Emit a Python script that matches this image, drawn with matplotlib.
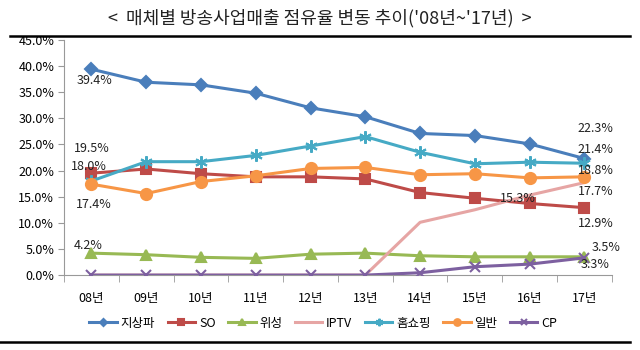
import matplotlib
matplotlib.use("Agg")
import matplotlib.pyplot as plt
import numpy as np

plt.rcParams['font.family'] = ['Noto Sans CJK KR', 'DejaVu Sans']

years = ['08년', '09년', '10년', '11년', '12년', '13년', '14년', '15년', '16년', '17년']
terrestrial = [39.4, 36.9, 36.4, 34.8, 32.0, 30.3, 27.1, 26.7, 25.1, 22.3]
so = [19.5, 20.3, 19.4, 18.8, 18.8, 18.4, 15.8, 14.7, 13.7, 12.9]
satellite = [4.2, 3.9, 3.4, 3.2, 4.0, 4.2, 3.7, 3.5, 3.5, 3.5]
iptv = [0.0, 0.0, 0.0, 0.0, 0.0, 0.0, 10.1, 12.5, 15.3, 17.7]
homeshop = [18.0, 21.7, 21.7, 22.9, 24.7, 26.5, 23.5, 21.3, 21.6, 21.4]
general = [17.4, 15.6, 17.9, 19.0, 20.4, 20.6, 19.2, 19.4, 18.6, 18.8]
cp = [0.0, 0.0, 0.0, 0.0, 0.0, 0.0, 0.45, 1.6, 2.1, 3.3]

names = ['지상파', 'SO', '위성', 'IPTV', '홈쇼핑', '일반', 'CP']
colors = ['#4A7EBB', '#BE4B48', '#98B954', '#E6A5A4', '#46AAC5', '#F79646', '#7D60A0']

fig = plt.figure(figsize=(6.4, 3.5), dpi=100)
ax = fig.add_axes([0.1, 0.214, 0.856, 0.672])
x = np.arange(len(years))

series = [terrestrial, so, satellite, iptv, homeshop, general, cp]
markers = ['D', 's', '^', None, (6, 2, 0), 'o', 'x']
msizes = [6, 7, 7, 0, 9, 8, 7]
for s, c, m, ms, n in zip(series, colors, markers, msizes, names):
    kw = dict(color=c, lw=2.2, label=n, zorder=3)
    if m is not None:
        kw.update(marker=m, markersize=ms, markeredgecolor=c, markerfacecolor=c, markeredgewidth=1.5)
    ax.plot(x, s, **kw)

ax.set_xlim(-0.5, 9.5)
ax.set_ylim(0, 45)
ax.set_yticks(np.arange(0, 46, 5))
ax.set_yticklabels([f'{v:.1f}%' for v in np.arange(0, 46, 5)], fontsize=9)
ax.set_xticks(x)
ax.set_xticklabels(years, fontsize=9)
ax.tick_params(axis='x', length=0, pad=12)
ax.set_xticks(np.arange(-0.5, 10, 1), minor=True)
ax.tick_params(axis='x', which='minor', length=5, color='#999999')
ax.tick_params(axis='y', length=4, color='#999999', pad=3)
for sp in ['top', 'right']:
    ax.spines[sp].set_visible(False)
ax.spines['left'].set_color('#999999')
ax.spines['bottom'].set_color('#999999')

fs = 9
tc = '#222222'
ax.text(0.05, 37.3, '39.4%', fontsize=fs, color=tc, ha='center', va='center')
ax.text(0.0, 24.3, '19.5%', fontsize=fs, color=tc, ha='center', va='center')
ax.text(-0.05, 20.8, '18.0%', fontsize=fs, color=tc, ha='center', va='center')
ax.text(0.05, 13.5, '17.4%', fontsize=fs, color=tc, ha='center', va='center')
ax.text(-0.05, 5.6, '4.2%', fontsize=fs, color=tc, ha='center', va='center')
ax.text(9.2, 28.0, '22.3%', fontsize=fs, color=tc, ha='center', va='center')
ax.text(9.2, 24.1, '21.4%', fontsize=fs, color=tc, ha='center', va='center')
ax.text(9.2, 20.1, '18.8%', fontsize=fs, color=tc, ha='center', va='center')
ax.text(9.2, 15.9, '17.7%', fontsize=fs, color=tc, ha='center', va='center')
ax.text(7.78, 14.6, '15.3%', fontsize=fs, color=tc, ha='center', va='center')
ax.text(9.2, 9.8, '12.9%', fontsize=fs, color=tc, ha='center', va='center')
ax.text(9.4, 5.2, '3.5%', fontsize=fs, color=tc, ha='center', va='center')
ax.text(9.2, 2.1, '3.3%', fontsize=fs, color=tc, ha='center', va='center')

fig.text(0.5, 0.948, "<  매체별 방송사업매출 점유율 변동 추이('08년~'17년)  >", fontsize=13,
         ha='center', va='center', color='#222222')
fig.add_artist(plt.Line2D([0.016, 0.984], [0.897, 0.897], color='black', lw=1.8))
fig.add_artist(plt.Line2D([0.0, 0.984], [0.023, 0.023], color='black', lw=1.8))

handles, labels = ax.get_legend_handles_labels()
fig.legend(handles, labels, loc='center', bbox_to_anchor=(0.505, 0.077), ncol=7, frameon=False,
           fontsize=9, handlelength=2.2, handletextpad=0.3, columnspacing=1.0, markerscale=0.6)

fig.savefig('out.png', dpi=100)
